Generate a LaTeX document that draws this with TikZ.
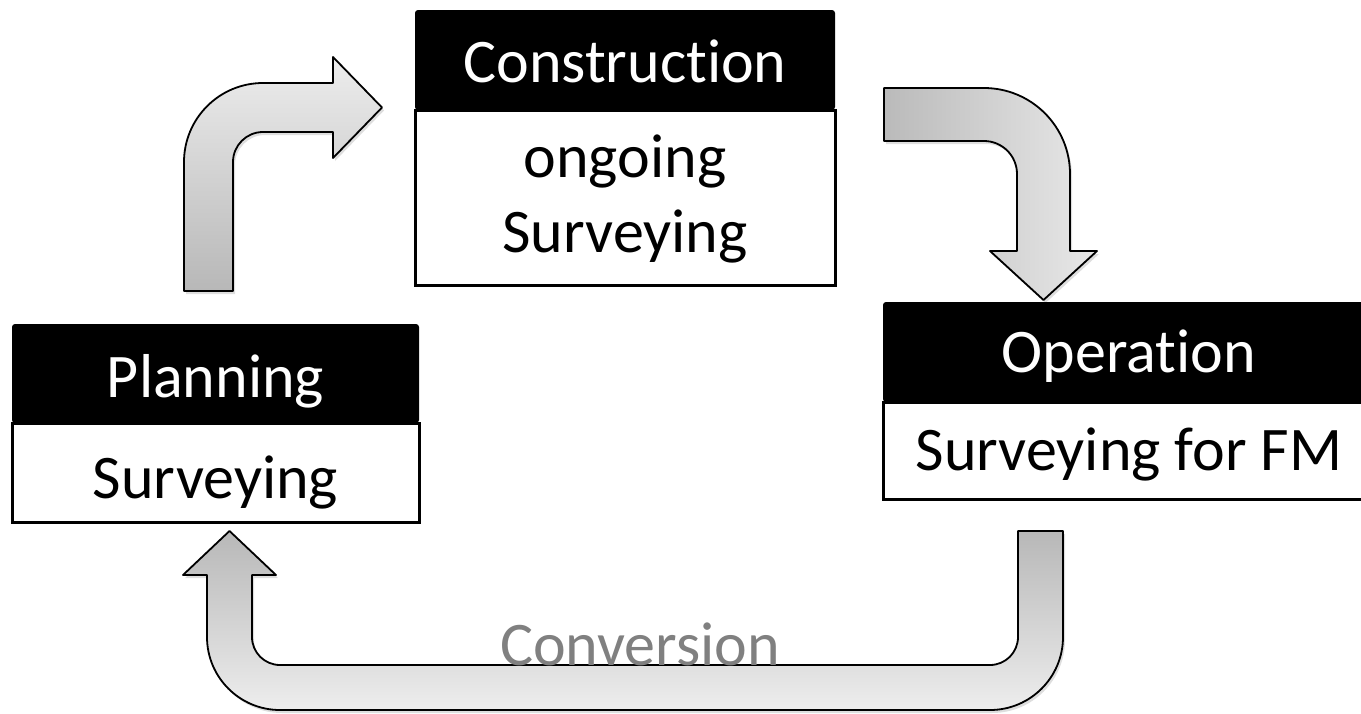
\documentclass[tikz,border=0pt]{standalone}
\usepackage{fontspec}
\setmainfont{Carlito}[Ligatures={NoCommon,NoContextual}]
\begin{document}
\begin{tikzpicture}[x=1pt,y=-1pt,
  hdr/.style={fill=black, rounded corners=3pt, inner sep=0pt},
  body/.style={draw=black, fill=white, line width=3pt, inner sep=0pt},
  htxt/.style={text=white, anchor=base, inner sep=0pt, font=\fontsize{62}{75}\selectfont},
  btxt/.style={text=black, anchor=base, inner sep=0pt, font=\fontsize{62}{75}\selectfont},
  blockarrow/.style={draw=black, line width=1.8pt, line join=round},
  shadowfill/.style={fill=black, fill opacity=0.13, draw=none}]
\clip (0,0) rectangle (1361,713);
\fill[white] (0,0) rectangle (1361,713);

% ---------- block arrows ----------
\def\arrowOne{(184,291) -- (184,162) arc[start angle=180,end angle=270,radius=79]
  -- (333,83) -- (333,57) -- (382,107.5) -- (333,158) -- (333,132) -- (263,132)
  arc[start angle=270,end angle=180,radius=30] -- (233,291) -- cycle}
\def\arrowTwo{(884,88) -- (984,88) arc[start angle=270,end angle=360,radius=86]
  -- (1070,251) -- (1097,251) -- (1043.5,300) -- (990,251) -- (1017,251) -- (1017,174)
  arc[start angle=0,end angle=-90,radius=33] -- (884,141) -- cycle}
\def\arrowThree{(1018,531) -- (1063,531) -- (1063,637) arc[start angle=0,end angle=90,radius=73]
  -- (280,710) arc[start angle=90,end angle=180,radius=73] -- (207,575) -- (183,575)
  -- (229.5,531) -- (276,575) -- (252,575) -- (252,637) arc[start angle=180,end angle=90,radius=28]
  -- (990,665) arc[start angle=90,end angle=0,radius=28] -- cycle}

\begin{scope}[shift={(2,3)}]
\fill[shadowfill] \arrowOne;
\fill[shadowfill] \arrowTwo;
\fill[shadowfill] \arrowThree;
\end{scope}
\shade[top color=black!7, bottom color=black!28] \arrowOne;
\draw[blockarrow] \arrowOne;
\shade[left color=black!27, right color=black!9] \arrowTwo;
\draw[blockarrow] \arrowTwo;
\shade[top color=black!28, bottom color=black!7] \arrowThree;
\draw[blockarrow] \arrowThree;

\node[btxt, text=black!50] (conv) at (640,665) {Conversion};

% ---------- Planning ----------
\node[body, minimum width=407, minimum height=99] (planB) at (215.5,472.5) {};
\node[hdr, minimum width=407, minimum height=99] (planH) at (215.5,373.5) {};
\node[htxt] (planT) at (215.5,397) {Planning};
\node[btxt] (planS) at (215.5,498) {Surveying};

% ---------- Construction ----------
\node[body, minimum width=420, minimum height=175] (consB) at (625,197.5) {};
\node[hdr, minimum width=420, minimum height=100] (consH) at (625,60) {};
\node[htxt] (consT) at (625,82) {Construction};
\node[btxt] (consS1) at (625,177) {ongoing};
\node[btxt] (consS2) at (625,252) {Surveying};

% ---------- Operation ----------
\node[body, minimum width=492, minimum height=97] (opB) at (1129,450.5) {};
\node[hdr, minimum width=492, minimum height=100] (opH) at (1129,352) {};
\node[htxt] (opT) at (1129,372) {Operation};
\node[btxt] (opS) at (1129,470) {Surveying for FM};
\end{tikzpicture}
\end{document}
